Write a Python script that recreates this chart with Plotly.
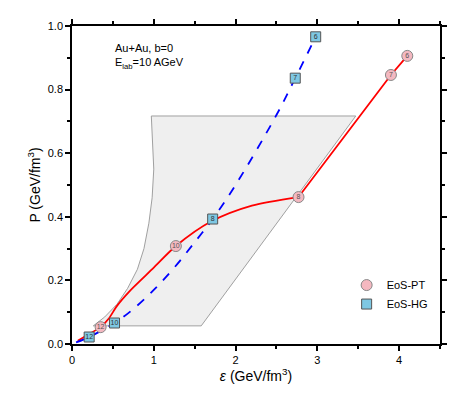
import plotly.graph_objects as go

# shaded region (grey polygon)
region_x = [0.26, 0.40, 0.55, 0.68, 0.80, 0.88, 0.94, 0.98, 1.00, 0.99, 0.97, 3.47, 1.58, 0.26]
region_y = [0.057, 0.085, 0.125, 0.175, 0.235, 0.30, 0.38, 0.46, 0.55, 0.63, 0.717, 0.717, 0.057, 0.057]

# EoS-PT curve (smooth part, then straight part) and marked points
pt_x = [0.07, 0.2, 0.35, 0.45, 0.55, 0.7, 1.0, 1.27, 1.7, 2.2, 2.77]
pt_y = [0.01, 0.03, 0.053, 0.08, 0.12, 0.165, 0.24, 0.308, 0.385, 0.435, 0.462]
pt2_x = [2.77, 3.9, 4.1]
pt2_y = [0.462, 0.846, 0.906]
pt_mx = [0.35, 1.27, 2.77, 3.90, 4.10]
pt_my = [0.053, 0.308, 0.462, 0.846, 0.906]
pt_lab = ["12", "10", "8", "7", "6"]

# EoS-HG curve and marked points
hg_x = [0.05, 0.21, 0.52, 0.75, 1.0, 1.25, 1.5, 1.72, 2.0, 2.5, 2.73, 2.98]
hg_y = [0.005, 0.022, 0.066, 0.11, 0.17, 0.24, 0.32, 0.393, 0.5, 0.72, 0.836, 0.966]
hg_mx = [0.21, 0.52, 1.72, 2.73, 2.98]
hg_my = [0.022, 0.066, 0.393, 0.836, 0.966]
hg_lab = ["12", "10", "8", "7", "6"]

fig = go.Figure()
fig.add_trace(go.Scatter(x=region_x, y=region_y, mode="lines", fill="toself",
                         fillcolor="#efefef", line=dict(color="#a0a0a0", width=1),
                         showlegend=False, hoverinfo="skip"))
fig.add_trace(go.Scatter(x=pt_x, y=pt_y, mode="lines", line=dict(color="red", width=1.8, shape="spline", smoothing=0.8),
                         showlegend=False))
fig.add_trace(go.Scatter(x=pt2_x, y=pt2_y, mode="lines", line=dict(color="red", width=1.8),
                         showlegend=False))
fig.add_trace(go.Scatter(x=hg_x, y=hg_y, mode="lines", line=dict(color="blue", width=1.8, dash="dash", shape="spline"),
                         showlegend=False))
fig.add_trace(go.Scatter(x=pt_mx, y=pt_my, mode="markers+text", name="EoS-PT", text=pt_lab,
                         textfont=dict(size=7, color="#555"), textposition="middle center",
                         marker=dict(symbol="circle", size=11, color="#f4b8c0", line=dict(color="#888", width=1))))
fig.add_trace(go.Scatter(x=hg_mx, y=hg_my, mode="markers+text", name="EoS-HG", text=hg_lab,
                         textfont=dict(size=7, color="#333"), textposition="middle center",
                         marker=dict(symbol="square", size=10, color="#7ec8e3", line=dict(color="#555", width=1))))

fig.add_annotation(x=0.5, y=0.905, xref="x", yref="y", showarrow=False, xanchor="left",
                   text="Au+Au, b=0<br>E<sub>lab</sub>=10 AGeV", align="left", font=dict(size=11, color="black"))

axis_common = dict(showline=True, linecolor="black", linewidth=1.5, mirror="ticks", ticks="outside",
                   ticklen=5, tickwidth=1.5, tickcolor="black", showgrid=False, zeroline=False,
                   tickfont=dict(size=11, color="black"))
fig.update_xaxes(range=[0, 4.5], dtick=1, minor=dict(dtick=0.5, ticks="outside", ticklen=3, tickcolor="black"),
                 title=dict(text="<i>ε</i> (GeV/fm<sup>3</sup>)", font=dict(size=14), standoff=4), **axis_common)
fig.update_yaxes(range=[0, 1.0], dtick=0.2, tickformat=".1f",
                 minor=dict(dtick=0.1, ticks="outside", ticklen=3, tickcolor="black"),
                 title=dict(text="P (GeV/fm<sup>3</sup>)", font=dict(size=14), standoff=4), **axis_common)
fig.update_layout(width=456, height=400, margin=dict(l=64, r=24, t=18, b=64),
                  plot_bgcolor="white", paper_bgcolor="white",
                  font=dict(family="Liberation Sans, Arial", color="black"),
                  legend=dict(x=0.98, y=0.08, xanchor="right", yanchor="bottom", bgcolor="rgba(0,0,0,0)",
                              font=dict(size=11)))
fig.write_html("out.html")
